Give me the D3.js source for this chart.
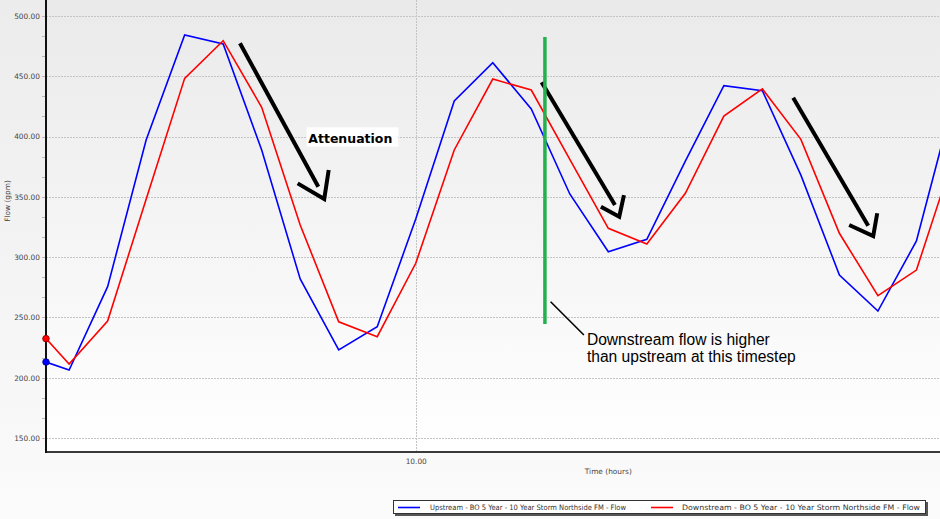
<!DOCTYPE html>
<html><head><meta charset="utf-8">
<script src="https://cdn.jsdelivr.net/npm/d3@7"></script>
<style>html,body{margin:0;padding:0;overflow:hidden;background:#f6f6f6}</style>
</head><body><svg id="c" width="940" height="519"></svg>
<script>
// ---- data ----
const times = [5.2,5.5,6.0,6.5,7.0,7.5,8.0,8.5,9.0,9.5,10.0,10.5,11.0,11.5,12.0,12.5,13.0,13.5,14.0,14.5,15.0,15.5,16.0,16.5,17.0];
const upstream = [213,206.4,275.5,397.2,484.2,476.8,388.9,281.9,223,242.3,331.6,429.5,461.3,422.9,352.4,304.5,314.8,379.7,442.2,438,368,285.2,255.3,313.4,435];
const downstream = [232.4,211.4,247,348,448.3,479.5,424.3,326.7,246.4,234,294.9,388.9,447.7,438.6,381,323.9,310.9,353,417,439.5,397.7,319.8,268,289.3,387];
const yTicks = [150,200,250,300,350,400,450,500];
const xTicks = [10];
const seriesNames = ["Upstream - BO 5 Year - 10 Year Storm Northside FM - Flow","Downstream - BO 5 Year - 10 Year Storm Northside FM - Flow"];
const seriesColors = ["#0000ff","#ff0000"];
const yTitle = "Flow (gpm)";
const xTitle = "Time (hours)";
// annotations (in data units: time, flow)
const arrows = [
  {line:[[7.718,477.4],[8.735,358.4]], head:[[8.467,361.2],[8.812,348.2],[8.870,372.3]]},
  {line:[[11.634,445.0],[12.586,343.2]], head:[[12.404,341.8],[12.642,333.5],[12.703,351.5]]},
  {line:[[14.900,432.2],[15.874,326.1]], head:[[15.627,326.7],[15.939,317.5],[15.991,336.4]]}
];
const greenMarker = [[11.677,482.6],[11.677,244.6]];
const leader = [[11.751,263.0],[12.183,235.4]];
const noteLines = ["Downstream flow is higher","than upstream at this timestep"];
const noteAnchor = [12.222,227.1];
const attenLabel = "Attenuation";
const attenAnchor = [8.605,394.9];

// ---- layout ----
const W=940,H=519, L=46, R=940, T=0, B=452;
const svg = d3.select("#c");
const defs = svg.append("defs");
const g1 = defs.append("linearGradient").attr("id","pg").attr("x1",0).attr("y1",0).attr("x2",0).attr("y2",1);
g1.append("stop").attr("offset","0%").attr("stop-color","#ececec");
g1.append("stop").attr("offset","100%").attr("stop-color","#fbfbfb");
const g2 = defs.append("linearGradient").attr("id","ag").attr("x1",0).attr("y1",0).attr("x2",0).attr("y2",1);
g2.append("stop").attr("offset","0%").attr("stop-color","#eaeaea");
g2.append("stop").attr("offset","100%").attr("stop-color","#ffffff");
defs.append("clipPath").attr("id","clip").append("rect").attr("x",L).attr("y",T).attr("width",R-L).attr("height",B-T);

svg.append("rect").attr("width",W).attr("height",H).attr("fill","url(#pg)");
svg.append("rect").attr("x",L).attr("y",T).attr("width",R-L).attr("height",B-T).attr("fill","url(#ag)");

const x = d3.scaleLinear().domain([5.2,16.806]).range([L,R]);
const y = d3.scaleLinear().domain([138.39,513.27]).range([B,T]);

// grid
svg.append("g").selectAll("line").data(yTicks).join("line")
  .attr("x1",L).attr("x2",R).attr("y1",d=>Math.round(y(d))+0.5).attr("y2",d=>Math.round(y(d))+0.5)
  .attr("stroke","#c4c4c4").attr("stroke-width",1).attr("stroke-dasharray","2,1");
svg.append("g").selectAll("line").data(xTicks).join("line")
  .attr("x1",d=>Math.round(x(d))+0.5).attr("x2",d=>Math.round(x(d))+0.5).attr("y1",T).attr("y2",B)
  .attr("stroke","#c4c4c4").attr("stroke-width",1).attr("stroke-dasharray","2,1");

// minor ticks on y axis
const minor = d3.range(150,510,50/3);
svg.append("g").selectAll("line").data(minor).join("line")
  .attr("x1",L-4).attr("x2",L).attr("y1",d=>Math.round(y(d))+0.5).attr("y2",d=>Math.round(y(d))+0.5)
  .attr("stroke","#b8b8b8").attr("stroke-width",1);

// axes
const yAxis = d3.axisLeft(y).tickValues(yTicks).tickFormat(d3.format(".2f")).tickSize(0).tickPadding(6);
const ya = svg.append("g").attr("transform",`translate(${L},0)`).call(yAxis);
ya.select(".domain").remove();
ya.selectAll("text").attr("font-family","DejaVu Sans, Verdana, sans-serif").attr("font-size","7.4px").attr("fill","#4a4646");
const xAxis = d3.axisBottom(x).tickValues(xTicks).tickFormat(d3.format(".2f")).tickSize(0).tickPadding(7);
const xa = svg.append("g").attr("transform",`translate(0,${B})`).call(xAxis);
xa.select(".domain").remove();
xa.selectAll("text").attr("font-family","DejaVu Sans, Verdana, sans-serif").attr("font-size","7.4px").attr("fill","#4a4646");

svg.append("line").attr("x1",L).attr("x2",R).attr("y1",B).attr("y2",B).attr("stroke","#3a3a3a").attr("stroke-width",2);
svg.append("line").attr("x1",L).attr("x2",L).attr("y1",T).attr("y2",B+1).attr("stroke","#111").attr("stroke-width",2);

svg.append("text").attr("transform",`translate(10,${y(346.6)}) rotate(-90)`).attr("text-anchor","middle")
  .attr("font-family","DejaVu Sans, Verdana, sans-serif").attr("font-size","7.4px").attr("fill","#4a4646").text(yTitle);
svg.append("text").attr("x",x(12.5)).attr("y",474).attr("text-anchor","middle")
  .attr("font-family","DejaVu Sans, Verdana, sans-serif").attr("font-size","7.4px").attr("fill","#4a4646").text(xTitle);

// series
const plot = svg.append("g").attr("clip-path","url(#clip)");
const line = d3.line().x((d,i)=>x(times[i])).y(d=>y(d));
[upstream,downstream].forEach((s,k)=>{
  plot.append("path").attr("d",line(s)).attr("fill","none").attr("stroke",seriesColors[k]).attr("stroke-width",1.6).attr("stroke-linejoin","miter");
});
[upstream,downstream].forEach((s,k)=>{
  svg.append("circle").attr("cx",x(times[0])).attr("cy",y(s[0])).attr("r",3.3)
    .attr("fill",seriesColors[k]).attr("stroke",k?"#8a0000":"#00008a").attr("stroke-width",0.8);
});

// annotations
const ann = svg.append("g");
const pl = d3.line().x(d=>x(d[0])).y(d=>y(d[1]));
arrows.forEach(a=>{
  ann.append("path").attr("d",pl(a.line)).attr("fill","none").attr("stroke","#000").attr("stroke-width",4).attr("stroke-linecap","butt");
  ann.append("path").attr("d",pl(a.head)).attr("fill","none").attr("stroke","#000").attr("stroke-width",4).attr("stroke-linejoin","miter");
});
ann.append("path").attr("d",pl(greenMarker)).attr("stroke","#22b14c").attr("stroke-width",3.5);
ann.append("path").attr("d",pl(leader)).attr("stroke","#000").attr("stroke-width",1.6);
noteLines.forEach((t,i)=>{
  ann.append("text").attr("x",x(noteAnchor[0])).attr("y",y(noteAnchor[1])+i*16.7)
    .attr("font-family","Liberation Sans, Arial, sans-serif").attr("font-size","15.6px").attr("fill","#000").text(t);
});
const ax = x(attenAnchor[0]), ay = y(attenAnchor[1]);
ann.append("rect").attr("x",ax-1.6).attr("y",ay-15.4).attr("width",91.6).attr("height",19.4).attr("fill","#fff");
ann.append("text").attr("x",ax).attr("y",ay).attr("font-family","DejaVu Sans, Verdana, sans-serif").attr("font-weight","bold")
  .attr("font-size","12.5px").attr("textLength",84).attr("lengthAdjust","spacingAndGlyphs").attr("fill","#000").text(attenLabel);

// legend
const lg = svg.append("g");
lg.append("rect").attr("x",395).attr("y",502).attr("width",533).attr("height",14).attr("fill","#555");
lg.append("rect").attr("x",393.5).attr("y",500.5).attr("width",532).attr("height",13).attr("fill","#fff").attr("stroke","#333").attr("stroke-width",1);
const lgItems = [{x0:398,tx:430,tw:196},{x0:651,tx:682,tw:238}];
lgItems.forEach((it,k)=>{
  lg.append("line").attr("x1",it.x0).attr("x2",it.x0+22).attr("y1",507.5).attr("y2",507.5).attr("stroke",seriesColors[k]).attr("stroke-width",1.6);
  lg.append("text").attr("x",it.tx).attr("y",510.3).attr("font-family","DejaVu Sans, Verdana, sans-serif").attr("font-size","7.4px")
    .attr("textLength",it.tw).attr("lengthAdjust","spacingAndGlyphs").attr("fill","#333").text(seriesNames[k]);
});
</script></body></html>
